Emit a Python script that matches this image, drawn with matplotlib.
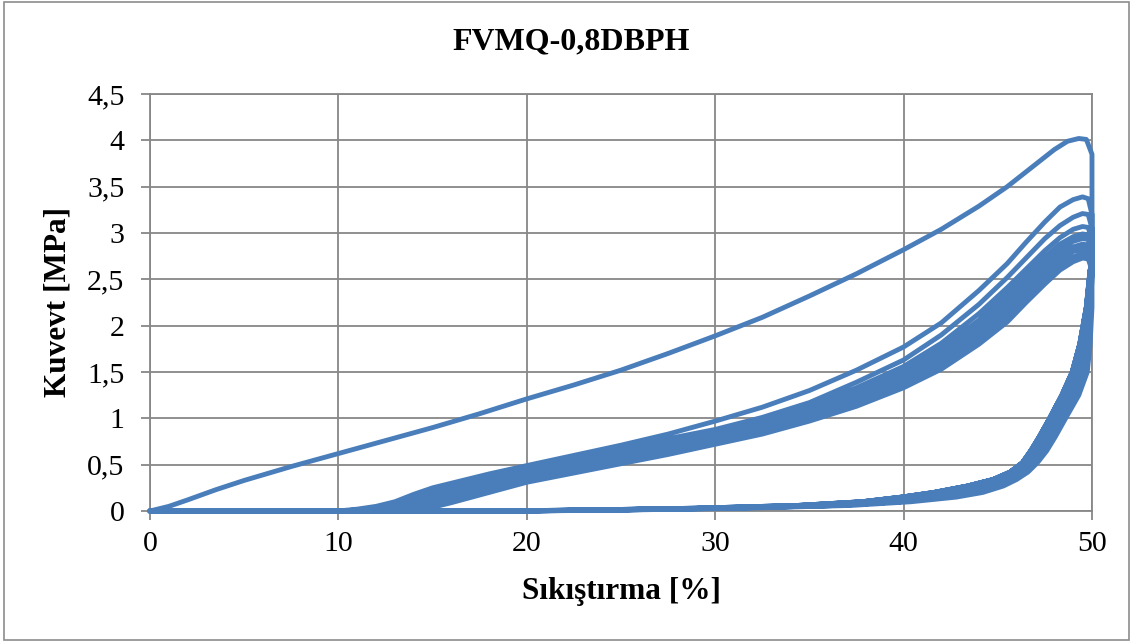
import matplotlib
matplotlib.use("Agg")
import matplotlib.pyplot as plt
from matplotlib.patches import Rectangle

plt.rcParams['font.family'] = ['Liberation Serif', 'DejaVu Serif']

TITLE = "FVMQ-0,8DBPH"
XLABEL = "Sıkıştırma [%]"
YLABEL = "Kuvevt [MPa]"
X_TICKS = [0, 10, 20, 30, 40, 50]
Y_TICKS = [0, 0.5, 1, 1.5, 2, 2.5, 3, 3.5, 4, 4.5]
Y_TICK_LABELS = ["0", "0,5", "1", "1,5", "2", "2,5", "3", "3,5", "4", "4,5"]

# First loading (cycle 1)
LOAD1_X = [0, 1, 2, 3.5, 5, 7.5, 10, 12.5, 15, 17.5, 20, 22.5, 25, 27.5, 30,
           32.5, 35, 37.5, 40, 42, 44, 45.5, 47, 48, 48.7, 49.3, 49.7, 50]
LOAD1_Y = [0, 0.05, 0.12, 0.23, 0.33, 0.48, 0.62, 0.76, 0.9, 1.05, 1.21, 1.36,
           1.52, 1.7, 1.89, 2.09, 2.32, 2.56, 2.82, 3.04, 3.29, 3.5, 3.74, 3.9,
           3.99, 4.02, 4.01, 3.85]

# Later loadings (cycles 2..10) on a shared strain grid
LOADN_X = [0, 9, 10, 11, 12, 13, 14, 15, 16, 18, 20, 22.5, 25, 27.5, 30, 32.5,
           35, 37.5, 40, 42, 44, 45.5, 46.5, 47.5, 48.3, 49, 49.5, 49.8, 50]
LOAD2_Y = [0, 0, 0, 0.02, 0.05, 0.1, 0.18, 0.25, 0.3, 0.4, 0.49, 0.6, 0.71,
           0.83, 0.97, 1.12, 1.3, 1.52, 1.77, 2.03, 2.38, 2.67, 2.9, 3.12, 3.28,
           3.36, 3.39, 3.37, 3.2]
LOAD3_Y = [0, 0, 0, 0.01, 0.04, 0.08, 0.15, 0.22, 0.28, 0.38, 0.47, 0.57, 0.67,
           0.78, 0.88, 1.01, 1.17, 1.39, 1.63, 1.9, 2.23, 2.52, 2.73, 2.94, 3.08,
           3.17, 3.21, 3.2, 3.05]
LOAD4_Y = [0, 0, 0, 0.01, 0.03, 0.07, 0.13, 0.2, 0.26, 0.36, 0.45, 0.55, 0.65,
           0.75, 0.86, 0.98, 1.13, 1.33, 1.56, 1.81, 2.13, 2.41, 2.61, 2.81, 2.95,
           3.04, 3.07, 3.06, 2.92]
LOAD5_Y = [0, 0, 0, 0, 0.02, 0.05, 0.11, 0.18, 0.24, 0.34, 0.43, 0.53, 0.63,
           0.73, 0.84, 0.96, 1.1, 1.29, 1.51, 1.75, 2.06, 2.34, 2.54, 2.74, 2.88,
           2.96, 2.99, 2.98, 2.85]
LOAD6_Y = [0, 0, 0, 0, 0.01, 0.04, 0.09, 0.16, 0.22, 0.32, 0.41, 0.51, 0.61,
           0.71, 0.82, 0.93, 1.07, 1.26, 1.47, 1.7, 2.0, 2.28, 2.48, 2.68, 2.83,
           2.91, 2.94, 2.93, 2.8]
LOAD7_Y = [0, 0, 0, 0, 0, 0.03, 0.07, 0.13, 0.19, 0.29, 0.39, 0.49, 0.59, 0.69,
           0.79, 0.91, 1.05, 1.23, 1.43, 1.66, 1.95, 2.22, 2.42, 2.62, 2.77, 2.85,
           2.88, 2.87, 2.74]
LOAD8_Y = [0, 0, 0, 0, 0, 0.02, 0.05, 0.11, 0.16, 0.27, 0.37, 0.47, 0.57, 0.67,
           0.77, 0.88, 1.02, 1.2, 1.4, 1.62, 1.9, 2.16, 2.36, 2.56, 2.71, 2.8,
           2.83, 2.82, 2.7]
LOAD9_Y = [0, 0, 0, 0, 0, 0, 0.03, 0.08, 0.13, 0.24, 0.34, 0.44, 0.54, 0.64,
           0.74, 0.86, 0.99, 1.16, 1.36, 1.57, 1.85, 2.1, 2.3, 2.5, 2.65, 2.74,
           2.78, 2.77, 2.65]
LOAD10_Y = [0, 0, 0, 0, 0, 0, 0, 0.04, 0.09, 0.2, 0.31, 0.41, 0.51, 0.61, 0.72,
            0.83, 0.97, 1.13, 1.33, 1.53, 1.8, 2.04, 2.25, 2.45, 2.6, 2.69, 2.73,
            2.72, 2.6]

# Unloading branches (shared force grid)
UNL_Y = [2.6, 2.2, 1.8, 1.5, 1.25, 1.0, 0.8, 0.65, 0.52, 0.42, 0.34, 0.27, 0.2,
         0.15, 0.1, 0.06, 0.03, 0.01, 0.0, 0.0]
UNL_1_X = [50, 50, 49.9, 49.75, 49.3, 48.6, 48.05, 47.6, 47.1, 46.6, 46.0, 45.3,
           44.2, 42.8, 40.4, 37.2, 31.5, 25, 20, 0]
UNL_2_X = [50, 49.95, 49.8, 49.55, 49.1, 48.4, 47.85, 47.4, 46.9, 46.35, 45.7,
           44.9, 43.7, 42.2, 39.8, 36.5, 30.8, 24.5, 19.5, 0]
UNL_3_X = [50, 49.9, 49.65, 49.35, 48.85, 48.15, 47.6, 47.15, 46.7, 46.15, 45.35,
           44.4, 43.0, 41.4, 39.1, 35.8, 30.2, 24, 19, 0]
UNL_4_X = [49.95, 49.8, 49.5, 49.15, 48.6, 47.95, 47.4, 46.95, 46.5, 45.9, 45.05,
           43.9, 42.3, 40.7, 38.5, 35.1, 29.6, 23.5, 18.5, 0]
UNL_5_X = [49.9, 49.7, 49.35, 48.95, 48.4, 47.75, 47.2, 46.75, 46.3, 45.65, 44.75,
           43.4, 41.6, 39.9, 37.8, 34.4, 29.0, 23, 18, 0]

CYCLES = [
    (LOAD1_X, LOAD1_Y, UNL_1_X),
    (LOADN_X, LOAD2_Y, UNL_2_X),
    (LOADN_X, LOAD3_Y, UNL_2_X),
    (LOADN_X, LOAD4_Y, UNL_3_X),
    (LOADN_X, LOAD5_Y, UNL_3_X),
    (LOADN_X, LOAD6_Y, UNL_4_X),
    (LOADN_X, LOAD7_Y, UNL_4_X),
    (LOADN_X, LOAD8_Y, UNL_5_X),
    (LOADN_X, LOAD9_Y, UNL_5_X),
    (LOADN_X, LOAD10_Y, UNL_5_X),
]

LINE_COLOR = "#4A7EBB"
GRID_COLOR = "#878787"

fig = plt.figure(figsize=(11.33, 6.43), dpi=100)
ax = fig.add_axes([0.1324, 0.2053, 0.8314, 0.6485])

xs, ys = [], []
for lx, ly, ux in CYCLES:
    xs.extend(lx + ux)
    ys.extend(ly + UNL_Y)
ax.plot(xs, ys, color=LINE_COLOR, lw=3.5, solid_joinstyle='round',
        solid_capstyle='round', zorder=3, clip_on=False)

ax.set_xlim(0, 50)
ax.set_ylim(0, 4.5)
ax.set_xticks(X_TICKS)
ax.set_xticklabels([str(t) for t in X_TICKS])
ax.set_yticks(Y_TICKS)
ax.set_yticklabels(Y_TICK_LABELS)
ax.grid(True, color=GRID_COLOR, lw=1.3, zorder=0)
ax.set_axisbelow(True)
for s in ax.spines.values():
    s.set_color(GRID_COLOR)
    s.set_linewidth(1.3)
ax.tick_params(axis='both', which='major', labelsize=21.5, color=GRID_COLOR,
               width=1.3, length=6.5, direction='out')
ax.tick_params(axis='x', pad=8)
ax.tick_params(axis='y', pad=12)

fig.text(571 / 1133, 1 - 42 / 643, TITLE, fontsize=23,
         fontweight='bold', ha='center', va='center')
fig.text(621 / 1133, 1 - 592 / 643, XLABEL, fontsize=22.5, fontweight='bold',
         ha='center', va='center')
fig.text(58 / 1133, 1 - 302 / 643, YLABEL, fontsize=22.5, fontweight='bold',
         ha='center', va='center', rotation=90)

fig.patches.append(Rectangle((4 / 1133, 1 - 640 / 643), 1125 / 1133, 638 / 643,
                             transform=fig.transFigure, fill=False,
                             edgecolor="#8C8C8C", lw=1.2))

fig.savefig("out.png", dpi=100, facecolor="white")
